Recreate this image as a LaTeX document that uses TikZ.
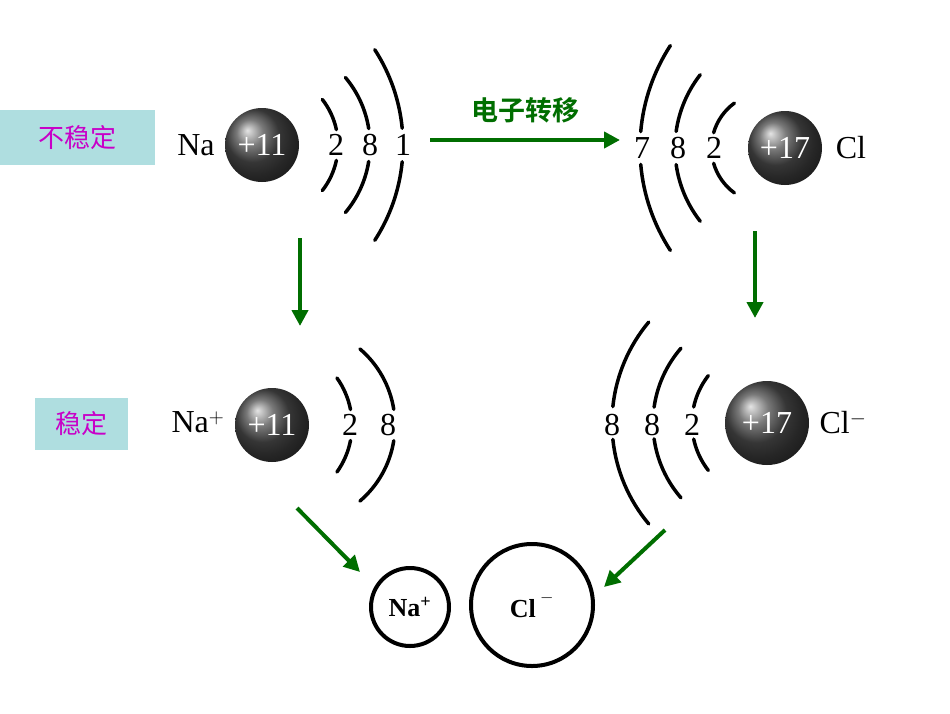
\documentclass[tikz,border=0pt]{standalone}
\usepackage{fontspec}
\newfontfamily\cjk{Noto Sans CJK SC}[BoldFont=Noto Sans CJK SC Bold]
\setmainfont{Liberation Serif}
\usetikzlibrary{arrows.meta}
\definecolor{grn}{RGB}{0,110,0}
\definecolor{mag}{RGB}{200,0,200}
\definecolor{boxc}{RGB}{175,222,224}
\tikzset{
 shellline/.style={line width=3.5pt,line cap=round},
 ball/.style={circle,shading=ball,ball color=black!70,minimum size=#1,inner sep=0pt,text=white,font=\fontsize{32}{32}\selectfont},
 lbl/.style={font=\fontsize{32}{32}\selectfont,inner sep=0pt},
 num/.style={font=\fontsize{32}{32}\selectfont,inner sep=0pt},
 garrow/.style={draw=grn,line width=4pt,-{Triangle[length=16pt,width=16pt]}},
 tag/.style={fill=boxc,text=mag,font=\cjk\fontsize{26}{26}\selectfont,inner sep=0pt},
 ion/.style={circle,draw,line width=4pt,inner sep=0pt,font=\bfseries\fontsize{26}{26}\selectfont}
}
\newcommand\shellarc[6]{% cx cy R centerangle gap ext
 \draw[shellline] ([shift={(#1,#2)}]{#4+#5}:#3) arc[start angle={#4+#5},end angle={#4+#6},radius=#3];
 \draw[shellline] ([shift={(#1,#2)}]{#4-#5}:#3) arc[start angle={#4-#5},end angle={#4-#6},radius=#3];}
\begin{document}
\begin{tikzpicture}[x=1pt,y=-1pt]
\useasboundingbox[fill=white] (0,0) rectangle (950,713);
% tags
\node[tag,minimum width=155pt,minimum height=55pt] (t1) at (77.5,137.5) {不稳定};
\node[tag,minimum width=93pt,minimum height=52pt] (t2) at (81.5,424) {稳定};
% Na
\node[lbl] (na) at (196,145) {Na};
\node[ball=74pt] (nab) at (262,145) {+11};
\shellarc{264}{145}{74}{0}{12}{38}
\shellarc{265}{145}{105}{0}{9}{40}
\shellarc{228}{145}{175}{0}{5.5}{33}
\node[num] (n1) at (336,145) {2};
\node[num] (n2) at (370,145) {8};
\node[num] (n3) at (403,145) {1};
% Cl
\node[ball=74pt] (clb) at (785,148) {+17};
\node[lbl] (cl) at (851,148) {Cl};
\shellarc{767}{148}{55.5}{180}{16}{54}
\shellarc{794}{148}{119}{180}{8}{38}
\shellarc{828}{148}{188}{180}{5}{33}
\node[num] (c1) at (714,148) {2};
\node[num] (c2) at (678,148) {8};
\node[num] (c3) at (642,148) {7};
% Na+
\node[lbl] (nap) at (198,422) {Na$^{+}$};
\node[ball=74pt] (napb) at (272,425) {+11};
\shellarc{271}{425}{81}{0}{11}{35.5}
\shellarc{295}{425}{100}{0}{9}{49.5}
\node[num] (p1) at (350,425) {2};
\node[num] (p2) at (388,425) {8};
% Cl-
\node[ball=84pt] (clmb) at (767,423) {+17};
\node[lbl] (clm) at (843,423) {Cl$^{-}$};
\shellarc{769}{423}{77}{180}{12}{38}
\shellarc{767}{423}{114}{180}{8}{41}
\shellarc{769}{423}{157}{180}{6}{40}
\node[num] (m1) at (692,425) {2};
\node[num] (m2) at (652,425) {8};
\node[num] (m3) at (612,425) {8};
% arrows
\coordinate (a1s) at (430,140); \coordinate (a1e) at (620,140);
\draw[garrow] (a1s) -- (a1e) node[midway,above=12pt,text=grn,font=\cjk\bfseries\fontsize{27}{27}\selectfont] (lab) {电子转移};
\coordinate (a2s) at (300,238); \coordinate (a2e) at (300,326);
\draw[garrow] (a2s) -- (a2e);
\coordinate (a3s) at (755,231); \coordinate (a3e) at (755,318);
\draw[garrow] (a3s) -- (a3e);
\coordinate (a4s) at (297,508); \coordinate (a4e) at (360,572);
\draw[garrow] (a4s) -- (a4e);
\coordinate (a5s) at (665,530); \coordinate (a5e) at (604,587);
\draw[garrow] (a5s) -- (a5e);
% ions
\node[ion,minimum size=78pt] (ina) at (410,607) {Na\textsuperscript{+}};
\node[ion,minimum size=122pt] (icl) at (532,605) {Cl\,\raisebox{0.5ex}{$^{-}$}};
\end{tikzpicture}
\end{document}
